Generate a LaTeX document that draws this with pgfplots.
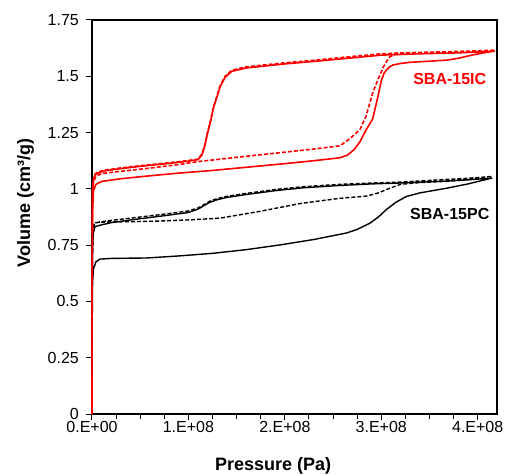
\documentclass[border=0pt]{standalone}
\usepackage{fontspec}
\setmainfont{Liberation Sans}
\usepackage{pgfplots}
\pgfplotsset{compat=1.18}

\begin{document}
\begin{tikzpicture}
\useasboundingbox (-92bp,-61bp) rectangle (413bp,414bp);
\begin{axis}[
  scale only axis,
  width=405bp, height=394bp,
  xmin=0, xmax=4.2, ymin=0, ymax=1.75,
  xtick={0,1,2,3,4},
  xticklabels={0.E+00,1.E+08,2.E+08,3.E+08,4.E+08},
  minor xtick={0.25,0.5,0.75,1.25,1.5,1.75,2.25,2.5,2.75,3.25,3.5,3.75,4.25},
  ytick={0,0.25,0.5,0.75,1,1.25,1.5,1.75},
  yticklabels={0,0.25,0.5,0.75,1,1.25,1.5,1.75},
  tick pos=left, tick align=outside,
  major tick length=6bp, minor tick length=5bp,
  axis line style={line width=1.4bp},
  tick style={line width=1bp, black},
  ticklabel style={font=\fontsize{16bp}{17bp}\selectfont},
  yticklabel style={inner xsep=0pt, inner ysep=0pt, xshift=-7bp},
  xticklabel style={inner ysep=0pt, yshift=-1bp},
  xlabel={Pressure (Pa)},
  ylabel={Volume (cm³/g)},
  xlabel style={at={(axis description cs:0.447,-0.143)}, anchor=base},
  ylabel style={at={(axis description cs:-0.153,0.535)}, anchor=base},
  label style={font=\fontsize{18bp}{19bp}\selectfont\bfseries},
  clip=false,
]
% black, solid: SBA-15PC run 1
\addplot[black, line width=1.4bp] coordinates {
  (0,0) (0.002,0.4) (0.006,0.58) (0.015,0.645) (0.04,0.675) (0.08,0.688)
  (0.2,0.691) (0.57,0.693) (0.9,0.702) (1.26,0.714) (1.6,0.73) (1.95,0.751)
  (2.3,0.775) (2.64,0.804) (2.75,0.82) (2.88,0.847) (2.97,0.875) (3.05,0.907)
  (3.15,0.94) (3.26,0.966) (3.4,0.982) (3.68,1.003) (3.9,1.022) (4.15,1.048)
  (3.9,1.04) (3.6,1.033) (3.2,1.026) (2.9,1.022) (2.57,1.015) (2.2,1.005)
  (1.92,0.993) (1.6,0.975) (1.4,0.962) (1.3,0.952) (1.22,0.94) (1.16,0.925)
  (1.1,0.91) (1.0,0.895) (0.7,0.878) (0.4,0.862) (0.2,0.85) (0.08,0.838)
  (0.03,0.832) (0.012,0.8) (0.005,0.7) (0.001,0.5)
};
% black, dashed: SBA-15PC run 2
\addplot[black, line width=1.4bp, dash pattern=on 4bp off 2bp] coordinates {
  (0,0) (0.002,0.6) (0.006,0.8) (0.015,0.842) (0.04,0.85) (0.2,0.853)
  (0.5,0.855) (0.7,0.857) (1.0,0.862) (1.33,0.87) (1.74,0.9) (2.16,0.935)
  (2.57,0.958) (2.85,0.968) (2.97,0.982) (3.09,1.003) (3.2,1.02) (3.4,1.028)
  (3.7,1.034) (3.95,1.045) (4.15,1.055)
  (3.9,1.047) (3.6,1.04) (3.2,1.03) (2.9,1.026) (2.57,1.02) (2.2,1.01)
  (1.92,0.998) (1.6,0.98) (1.4,0.967) (1.3,0.957) (1.22,0.945) (1.16,0.93)
  (1.1,0.915) (1.0,0.902) (0.7,0.885) (0.4,0.87) (0.2,0.86) (0.08,0.853)
  (0.03,0.848) (0.012,0.82) (0.005,0.7) (0.001,0.5)
};
% red, solid: SBA-15IC run 1
\addplot[red, line width=1.6bp] coordinates {
  (0,0) (0.002,0.6) (0.006,0.9) (0.015,0.99) (0.04,1.02) (0.1,1.033)
  (0.3,1.045) (0.6,1.058) (0.9,1.07) (1.2,1.08) (1.53,1.093) (2.0,1.112)
  (2.3,1.125) (2.57,1.138) (2.65,1.15) (2.72,1.175) (2.78,1.21) (2.84,1.26)
  (2.91,1.31) (2.96,1.4) (3.0,1.48) (3.03,1.515) (3.08,1.54) (3.12,1.55)
  (3.2,1.557) (3.3,1.562) (3.5,1.567) (3.68,1.572) (3.8,1.58) (3.95,1.595)
  (4.1,1.607) (4.18,1.612)
  (4.1,1.61) (3.8,1.604) (3.4,1.6) (3.0,1.594) (2.6,1.578) (2.3,1.566)
  (2.0,1.555) (1.6,1.537) (1.45,1.522) (1.38,1.495) (1.33,1.455) (1.29,1.4)
  (1.26,1.36) (1.23,1.3) (1.2,1.25) (1.17,1.19) (1.14,1.15) (1.1,1.13)
  (1.0,1.123) (0.8,1.113) (0.5,1.1) (0.3,1.09) (0.13,1.08) (0.06,1.07)
  (0.03,1.06) (0.015,1.04) (0.006,0.99) (0.002,0.8)
};
% red, dashed: SBA-15IC run 2
\addplot[red, line width=1.6bp, dash pattern=on 4bp off 2bp] coordinates {
  (0,0) (0.002,0.7) (0.006,0.95) (0.015,1.03) (0.04,1.055) (0.1,1.068)
  (0.3,1.078) (0.6,1.092) (0.9,1.108) (1.12,1.122) (1.5,1.14) (2.0,1.163)
  (2.3,1.177) (2.57,1.191) (2.65,1.215) (2.72,1.24) (2.78,1.265) (2.84,1.32)
  (2.88,1.38) (2.91,1.425) (2.97,1.49) (3.02,1.54) (3.06,1.57) (3.09,1.587)
  (3.15,1.597) (3.3,1.602) (3.6,1.606) (3.9,1.61) (4.18,1.616)
  (4.0,1.613) (3.6,1.608) (3.2,1.604) (3.0,1.6) (2.6,1.584) (2.3,1.571)
  (2.0,1.56) (1.6,1.542) (1.45,1.527) (1.38,1.5) (1.33,1.46) (1.29,1.405)
  (1.26,1.365) (1.23,1.305) (1.2,1.255) (1.17,1.195) (1.14,1.155) (1.1,1.132)
  (1.0,1.126) (0.8,1.116) (0.5,1.103) (0.3,1.093) (0.13,1.083) (0.06,1.075)
  (0.03,1.065) (0.015,1.045) (0.006,1.0) (0.002,0.85)
};
\node[red, font=\fontsize{16bp}{18bp}\selectfont\bfseries] at (axis cs:3.71,1.49) {SBA-15IC};
\node[black, font=\fontsize{16bp}{18bp}\selectfont\bfseries] at (axis cs:3.71,0.889) {SBA-15PC};
\end{axis}
\end{tikzpicture}
\end{document}
